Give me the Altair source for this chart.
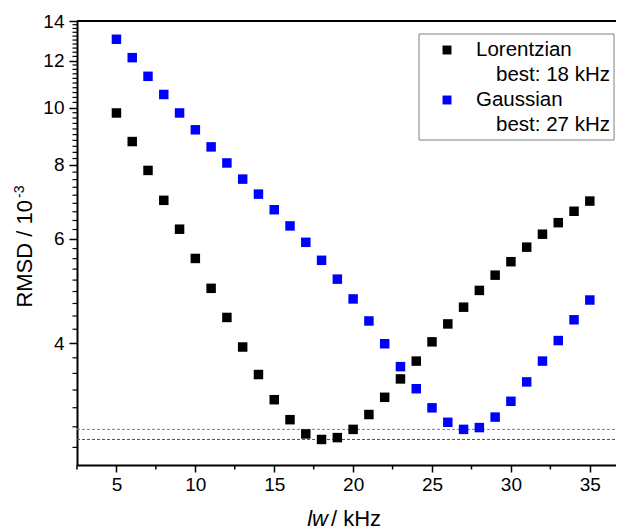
import altair as alt
import pandas as pd

# ---- data ----
lw = list(range(5, 36))
lorentzian = [9.79, 8.76, 7.83, 6.97, 6.23, 5.56, 4.95, 4.42, 3.94, 3.54, 3.21,
              2.97, 2.81, 2.75, 2.77, 2.86, 3.03, 3.24, 3.48, 3.73, 4.02, 4.31,
              4.60, 4.91, 5.21, 5.49, 5.81, 6.11, 6.39, 6.68, 6.95]
gaussian = [13.04, 12.14, 11.29, 10.52, 9.79, 9.17, 8.58, 8.06, 7.57, 7.14, 6.72,
            6.31, 5.92, 5.52, 5.13, 4.75, 4.36, 3.99, 3.65, 3.35, 3.11, 2.94,
            2.86, 2.88, 3.00, 3.19, 3.44, 3.73, 4.04, 4.38, 4.73]
models = ["Lorentzian", "Gaussian"]
best_labels = ["best: 18 kHz", "best: 27 kHz"]
best_rmsd = [2.75, 2.86]
colors = ["#000000", "#0000ff"]
dash_colors = ["#505050", "#7070ff"]
x_ticks = [5, 10, 15, 20, 25, 30, 35]
x_minor = [2.5, 7.5, 12.5, 17.5, 22.5, 27.5, 32.5]
y_ticks = [4, 6, 8, 10, 12, 14]
y_minor = ([4 - 2 * k / 9 for k in range(1, 7)]
           + [4 + 2 * k / 9 for k in range(1, 9)]
           + [6 + 2 * k / 9 for k in range(1, 9)]
           + [8 + 0.2 * k for k in range(1, 30) if k % 10 != 0])

W, H = 539, 444
FONT = "Liberation Sans"

df = pd.DataFrame({
    "lw": lw * 2,
    "rmsd": lorentzian + gaussian,
    "model": [models[0]] * len(lw) + [models[1]] * len(lw),
})

xscale = alt.Scale(domain=[2.5, 36.66], nice=False, zero=False)
yscale = alt.Scale(type="log", domain=[2.49, 14], nice=False)
cscale = alt.Scale(domain=models, range=colors)

xaxis = alt.Axis(values=x_ticks, title=None, grid=False, tickSize=7, tickWidth=1.5,
                 domainWidth=2, domainColor="black", tickColor="black",
                 labelFont=FONT, labelFontSize=19, labelColor="black", labelPadding=3)
yaxis = alt.Axis(values=y_ticks, title=None, grid=False, tickSize=8, tickWidth=1.5,
                 domainWidth=2, domainColor="black", tickColor="black", format="d",
                 labelFont=FONT, labelFontSize=19, labelColor="black", labelPadding=5)

points = alt.Chart(df).mark_square(size=90, opacity=1, clip=False).encode(
    x=alt.X("lw:Q", scale=xscale, axis=xaxis),
    y=alt.Y("rmsd:Q", scale=yscale, axis=yaxis),
    color=alt.Color("model:N", scale=cscale, legend=None),
)

best_lines = [
    alt.Chart(pd.DataFrame({"best": [best_rmsd[i]]})).mark_rule(
        strokeWidth=1, strokeDash=[3, 2], color=dash_colors[i]).encode(
        y=alt.Y("best:Q", scale=yscale), x=alt.value(0), x2=alt.value(W))
    for i in range(2)
]

# minor ticks drawn as short segments (Vega axes have no minor ticks)
ymin_df = pd.DataFrame({"ym": y_minor})
y_minor_ticks = alt.Chart(ymin_df).mark_rule(
    color="black", strokeWidth=1.2, clip=False).encode(
    y=alt.Y("ym:Q", scale=yscale), x=alt.value(-4.5), x2=alt.value(0))

xmin_df = pd.DataFrame({"xm": x_minor})
x_minor_ticks = alt.Chart(xmin_df).mark_rule(
    color="black", strokeWidth=1.5, clip=False).encode(
    x=alt.X("xm:Q", scale=xscale), y=alt.value(H), y2=alt.value(H + 4.5))

one = pd.DataFrame({"a": [0]})

top_line = alt.Chart(one).mark_rule(color="black", strokeWidth=2).encode(
    x=alt.value(0), x2=alt.value(W), y=alt.value(0))


def txt(s, x, y, size, align="left", baseline="middle", angle=0, style="normal"):
    kw = dict(font=FONT, fontSize=size, align=align, baseline=baseline,
              color="black", fontStyle=style, text=s)
    if angle:
        kw["angle"] = angle
    return alt.Chart(one).mark_text(**kw).encode(x=alt.value(x), y=alt.value(y))


# legend
legend_box = alt.Chart(one).mark_rect(fill="white", stroke="#808080", strokeWidth=1).encode(
    x=alt.value(342), x2=alt.value(537), y=alt.value(13), y2=alt.value(119))
leg_df = pd.DataFrame({"model": models, "yy": [29, 79]})
legend_sq = alt.Chart(leg_df).mark_square(size=80, opacity=1).encode(
    x=alt.value(370), y=alt.Y("yy:Q", scale=None),
    color=alt.Color("model:N", scale=cscale, legend=None))
legend_txt = [
    txt(models[0], 399, 29, 20.5),
    txt(best_labels[0], 419, 54, 20.5),
    txt(models[1], 399, 79, 20.5),
    txt(best_labels[1], 419, 104, 20.5),
]

# axis titles
x_title = [
    txt("lw", 251, 505, 22, align="right", baseline="alphabetic", style="italic"),
    txt("/ kHz", 254, 505, 22, align="left", baseline="alphabetic"),
]
y_title = [
    txt("RMSD / 10", -45, 179, 22, align="right", baseline="alphabetic", angle=270),
    txt("-3", -53, 177, 14, align="left", baseline="alphabetic", angle=270),
]

chart = alt.layer(
    *best_lines, points, y_minor_ticks, x_minor_ticks, top_line,
    legend_box, legend_sq, *legend_txt, *x_title, *y_title,
).properties(
    width=W, height=H,
    autosize=alt.AutoSizeParams(type="none"),
    padding={"left": 69, "top": 13, "right": 0, "bottom": 66},
).configure_view(stroke=None)

chart.save("out.html", embed_options={"renderer": "svg", "actions": False})
